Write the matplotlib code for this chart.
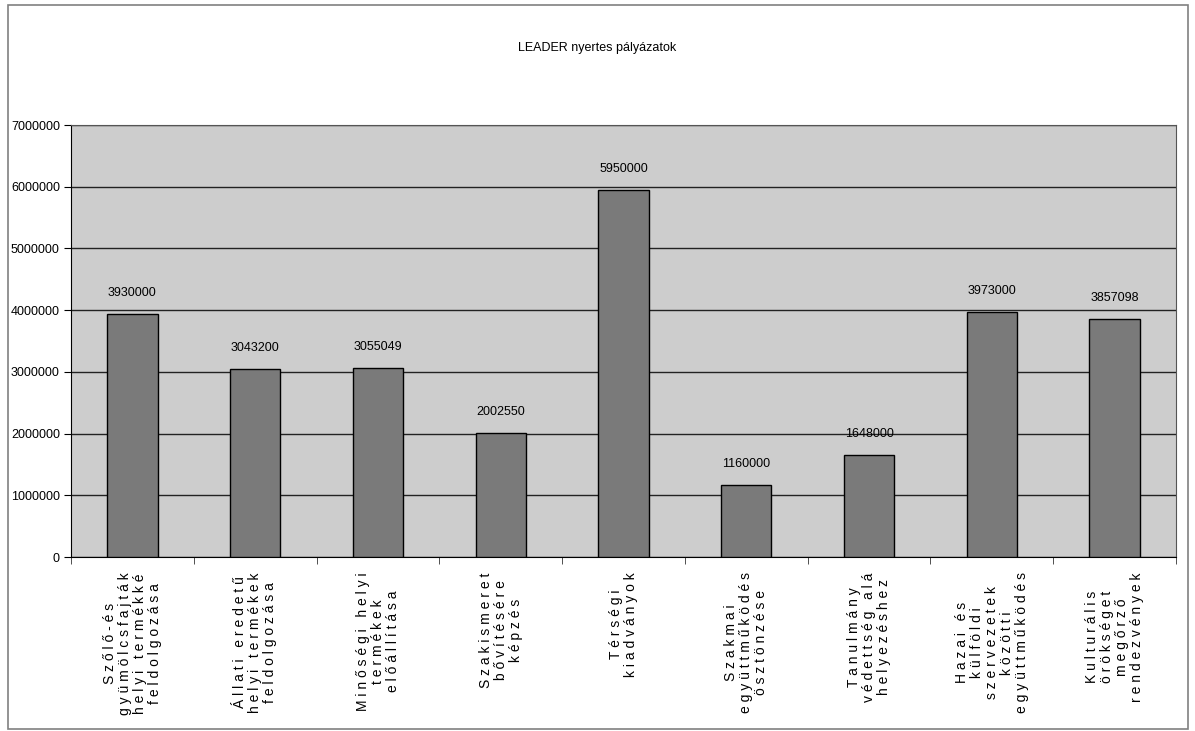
import numpy as np
import matplotlib
matplotlib.use('Agg')
import matplotlib.pyplot as plt
from matplotlib.patches import Rectangle

plt.rcParams['font.family'] = ['Liberation Sans', 'DejaVu Sans']

# data
categories = [
    ['Szőlő-és', 'gyümölcsfajták', 'helyi termékké', 'feldolgozása'],
    ['Állati eredetű', 'helyi termékek', 'feldolgozása'],
    ['Minőségi helyi', 'termékek', 'előállítása'],
    ['Szakismeret', 'bővítésére', 'képzés'],
    ['Térségi', 'kiadványok'],
    ['Szakmai', 'együttműködés', 'ösztönzése'],
    ['Tanulmány', 'védettség alá', 'helyezéshez'],
    ['Hazai és', 'külföldi', 'szervezetek', 'közötti', 'együttműködés'],
    ['Kulturális', 'örökséget', 'megőrző', 'rendezvények'],
]
values = [3930000, 3043200, 3055049, 2002550, 5950000, 1160000, 1648000, 3973000, 3857098]
yticks = [0, 1000000, 2000000, 3000000, 4000000, 5000000, 6000000, 7000000]


def spaced(lines):
    return '\n'.join(' '.join(line) for line in lines)


fig = plt.figure(figsize=(11.95, 7.31), dpi=100)
fig.patches.append(Rectangle((8 / 1195, 2 / 731), 1180 / 1195, 724 / 731,
                             transform=fig.transFigure, fill=False,
                             edgecolor='#808080', linewidth=1.2))

ax = fig.add_axes([71 / 1195, 1 - 557 / 731, 1105 / 1195, 432 / 731])
ax.set_facecolor('#cdcdcd')

x = np.arange(len(values))
ax.bar(x, values, width=0.41, color='#7a7a7a', edgecolor='black', linewidth=1, zorder=3)

for xi, v in zip(x, values):
    ax.annotate(str(v), (xi, v), xytext=(0, 11), textcoords='offset points',
                ha='center', va='bottom', fontsize=9)

ax.set_xlim(-0.5, len(values) - 0.5)
ax.set_ylim(0, 7000000)
ax.set_yticks(yticks)
ax.set_yticklabels([str(t) for t in yticks], fontsize=9)
ax.yaxis.grid(True, color='#222222', linewidth=1, zorder=0)
ax.set_axisbelow(True)

ax.set_xticks(x)
ax.set_xticklabels([spaced(c) for c in categories], rotation=90, ha='center', va='top',
                   multialignment='center', fontsize=10, linespacing=1.1)
ax.set_xticks(np.arange(-0.5, len(values), 1), minor=True)
ax.tick_params(axis='x', which='major', length=0, pad=11)
ax.tick_params(axis='x', which='minor', length=5, direction='out', color='#333333')
ax.tick_params(axis='y', length=5, direction='out', pad=3)

for side in ['top', 'right']:
    ax.spines[side].set_color('#555555')
for side in ['left', 'bottom']:
    ax.spines[side].set_color('black')

fig.text(0.5, 1 - 48 / 731, 'LEADER nyertes pályázatok', ha='center', va='center', fontsize=9)

plt.savefig('out.png', dpi=100)
